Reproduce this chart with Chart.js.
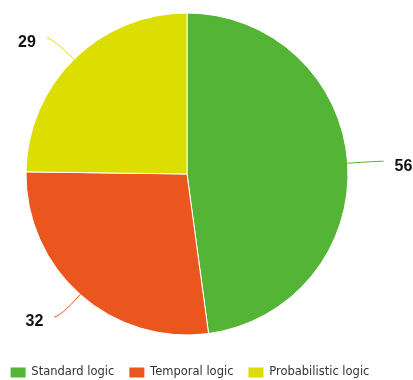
<!DOCTYPE html>
<html>
<head>
<meta charset="utf-8">
<script src="https://cdn.jsdelivr.net/npm/chart.js@4/dist/chart.umd.min.js"></script>
<style>
  html, body { margin: 0; padding: 0; background: #ffffff; }
  #wrap { position: relative; width: 413px; height: 380px; }
</style>
</head>
<body>
<div id="wrap"><canvas id="c"></canvas></div>
<script>
const categories = ['Standard logic', 'Temporal logic', 'Probabilistic logic'];
const values = [56, 32, 29];
const colors = ['#54B435', '#EB561E', '#DCDD00'];

const leaderLabels = {
  id: 'leaderLabels',
  afterDatasetsDraw(chart) {
    const ctx = chart.ctx;
    const meta = chart.getDatasetMeta(0);
    const ds = chart.data.datasets[0];
    ctx.save();
    meta.data.forEach((arc, i) => {
      const p = arc.getProps(['x', 'y', 'startAngle', 'endAngle', 'outerRadius'], true);
      const mid = (p.startAngle + p.endAngle) / 2;
      const dx = Math.cos(mid), dy = Math.sin(mid);
      const r = p.outerRadius;
      const x0 = p.x + dx * r, y0 = p.y + dy * r;
      const x1 = p.x + dx * (r + 30), y1 = p.y + dy * (r + 30);
      const s = dx >= 0 ? 1 : -1;
      const x2 = x1 + s * 6, y2 = y1;
      ctx.beginPath();
      ctx.moveTo(x0, y0);
      ctx.quadraticCurveTo(x1, y1, x2, y2);
      ctx.strokeStyle = ds.backgroundColor[i];
      ctx.lineWidth = 1;
      ctx.stroke();
      ctx.fillStyle = '#111111';
      ctx.font = 'bold 16px "Liberation Sans", Arial, sans-serif';
      ctx.textAlign = s > 0 ? 'left' : 'right';
      ctx.textBaseline = 'middle';
      ctx.fillText(String(ds.data[i]), x2 + s * 11, y2 + 5);
    });
    ctx.restore();
  }
};

new Chart(document.getElementById('c'), {
  type: 'pie',
  data: {
    labels: categories,
    datasets: [{
      data: values,
      backgroundColor: colors,
      borderColor: '#ffffff',
      borderWidth: 1
    }]
  },
  options: {
    responsive: true,
    maintainAspectRatio: false,
    animation: false,
    events: [],
    layout: { padding: { left: -6, right: 27, top: 12.5, bottom: -8.25 } },
    plugins: {
      title: {
        display: true, text: '', position: 'left',
        font: { size: 1, lineHeight: 1 }, padding: { top: 30.5, bottom: 0 }
      },
      subtitle: {
        display: true, text: '', position: 'right',
        font: { size: 1, lineHeight: 1 }, padding: { top: 36.5, bottom: 0 }
      },
      legend: {
        position: 'bottom',
        title: { display: true, text: '', font: { size: 1, lineHeight: 1 }, padding: { top: 15.25, bottom: 0 } },
        labels: {
          boxWidth: 15,
          boxHeight: 10,
          padding: 15,
          color: '#333333',
          font: { family: '"DejaVu Sans", Verdana, sans-serif', size: 11.5 },
          generateLabels(chart) {
            const items = Chart.overrides.pie.plugins.legend.labels.generateLabels(chart);
            items.forEach(it => { it.lineWidth = 0; it.strokeStyle = 'rgba(0,0,0,0)'; });
            return items;
          }
        }
      },
      tooltip: { enabled: false }
    }
  },
  plugins: [leaderLabels]
});
</script>
</body>
</html>
